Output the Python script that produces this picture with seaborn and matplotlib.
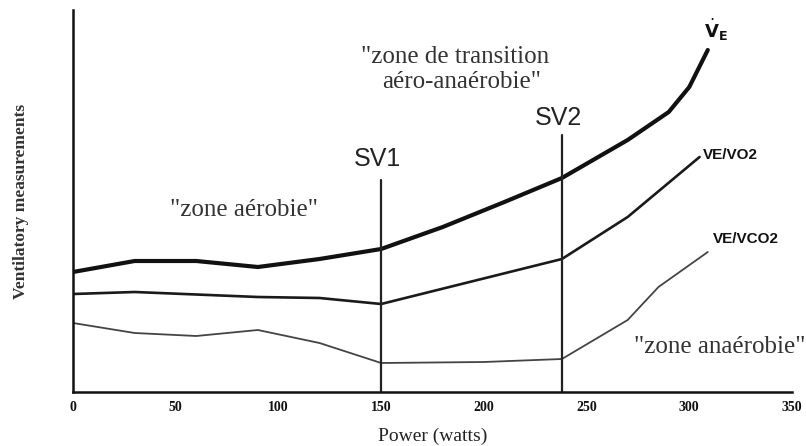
import matplotlib
matplotlib.use("Agg")
import matplotlib.pyplot as plt
import seaborn as sns
import pandas as pd

# Power (watts) and ventilatory responses (arbitrary units)
ve_power = [0, 30, 60, 90, 120, 150, 180, 210, 238, 270, 290, 300, 309]
ve_values = [120, 131, 131, 125, 133, 143, 165, 190, 214, 252, 280, 305, 342]

vevo2_power = [0, 30, 90, 120, 150, 238, 270, 305]
vevo2_values = [98, 100, 95, 94, 88, 133, 175, 235]

vevco2_power = [0, 30, 60, 90, 120, 150, 200, 238, 270, 285, 309]
vevco2_values = [69, 59, 56, 62, 49, 29, 30, 33, 72, 105, 140]

thresholds = {"SV1": 150, "SV2": 238}
x_ticks = [0, 50, 100, 150, 200, 250, 300, 350]

sns.set_style("white")
plt.rcParams["font.family"] = ["Liberation Serif", "DejaVu Serif"]

fig = plt.figure(figsize=(8.06, 4.46), dpi=100)
ax = fig.add_axes([73 / 806, 54 / 446, 719 / 806, 382 / 446])

curves = [
    (ve_power, ve_values, 3.0, "#111111"),
    (vevo2_power, vevo2_values, 1.9, "#1a1a1a"),
    (vevco2_power, vevco2_values, 1.3, "#444444"),
]
for xs, ys, lw, col in curves:
    df = pd.DataFrame({"power": xs, "value": ys})
    sns.lineplot(data=df, x="power", y="value", ax=ax, color=col,
                 linewidth=lw, estimator=None, sort=False)

# Threshold markers
ax.plot([thresholds["SV1"]] * 2, [0, 212], color="#222222", lw=1.6)
ax.plot([thresholds["SV2"]] * 2, [0, 257], color="#222222", lw=1.6)

ax.set_xlim(0, 350)
ax.set_ylim(0, 382)
ax.set_xticks(x_ticks)
ax.set_xticklabels([str(t) for t in x_ticks], fontweight="bold", fontsize=10)
ax.set_yticks([])
ax.tick_params(axis="x", direction="inout", length=7, width=1.6, pad=3,
               colors="#111111")
for side in ("top", "right"):
    ax.spines[side].set_visible(False)
for side in ("left", "bottom"):
    ax.spines[side].set_linewidth(1.8)
    ax.spines[side].set_color("#111111")

ax.set_xlabel("Power (watts)", fontsize=14, color="#222222", labelpad=10)
ax.set_ylabel("Ventilatory measurements", fontsize=12.5, fontweight="bold",
              color="#333333")
ax.yaxis.set_label_coords(-0.061, 0.5)

txt = "#333333"
ax.text(148, 233, "SV1", fontsize=18, family="Liberation Sans",
        ha="center", va="center", color="#222222")
ax.text(236.5, 274, "SV2", fontsize=18, family="Liberation Sans",
        ha="center", va="center", color="#222222")
ax.text(47, 182, "\"zone aérobie\"", fontsize=18, ha="left", va="center",
        color=txt)
ax.text(186, 335, "\"zone de transition", fontsize=18, ha="center",
        va="center", color=txt)
ax.text(189, 310, "aéro-anaérobie\"", fontsize=18, ha="center",
        va="center", color=txt)
ax.text(273, 45, "\"zone anaérobie\"", fontsize=18, ha="left",
        va="center", color=txt)
ax.text(307, 362, r"$\dot{\mathbf{V}}_{\mathbf{E}}$", fontsize=13,
        ha="left", va="center", color="#111111")
ax.text(306.5, 237, "VE/VO2", fontsize=11, family="Liberation Sans",
        fontweight="bold", ha="left", va="center", color="#111111")
ax.text(311.5, 153, "VE/VCO2", fontsize=11, family="Liberation Sans",
        fontweight="bold", ha="left", va="center", color="#111111")

fig.savefig("out.png", dpi=100, facecolor="white")
